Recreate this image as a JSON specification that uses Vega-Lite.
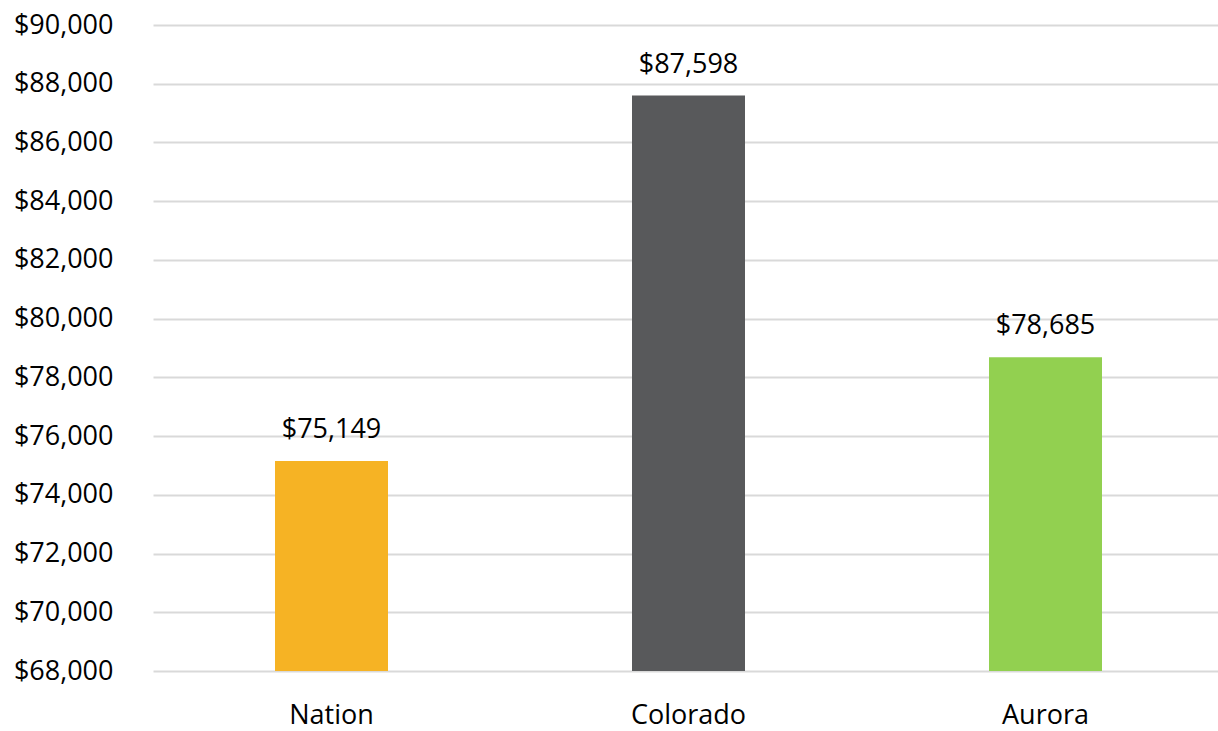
{
  "$schema": "https://vega.github.io/schema/vega-lite/v6.json",
  "width": 1071,
  "height": 646,
  "autosize": {"type": "none"},
  "padding": {"left": 153, "top": 25, "right": 0, "bottom": 60},
  "background": "white",
  "config": {"view": {"stroke": null}, "font": "Open Sans"},
  "data": {"values": [
    {"region": "Nation", "income": 75149},
    {"region": "Colorado", "income": 87598},
    {"region": "Aurora", "income": 78685}
  ]},
  "encoding": {
    "x": {"field": "region", "type": "nominal", "sort": null,
      "scale": {"paddingInner": 0, "paddingOuter": 0},
      "axis": {"title": null, "labelAngle": 0, "ticks": false, "domain": false, "labelFontSize": 27, "labelColor": "#000000", "labelPadding": 31, "labelFont": "Open Sans"}},
    "y": {"field": "income", "type": "quantitative",
      "scale": {"domain": [68000, 90000], "nice": false, "zero": false},
      "axis": {"title": null, "values": [68000,70000,72000,74000,76000,78000,80000,82000,84000,86000,88000,90000], "format": "$,.0f", "ticks": false, "domain": false, "labelFontSize": 27, "labelColor": "#000000", "labelPadding": 40, "labelFont": "Open Sans", "gridColor": "#d9d9d9", "gridWidth": 2}}
  },
  "layer": [
    {"mark": {"type": "bar", "size": 113},
     "encoding": {
       "y2": {"datum": 68000},
       "color": {"field": "region", "type": "nominal", "legend": null,
         "scale": {"domain": ["Nation", "Colorado", "Aurora"], "range": ["#F6B324", "#58595B", "#92D050"]}}
     }},
    {"mark": {"type": "text", "baseline": "alphabetic", "dy": -23, "fontSize": 27, "font": "Open Sans", "color": "#000000"},
     "encoding": {"text": {"field": "income", "type": "quantitative", "format": "$,.0f"}}}
  ]
}
